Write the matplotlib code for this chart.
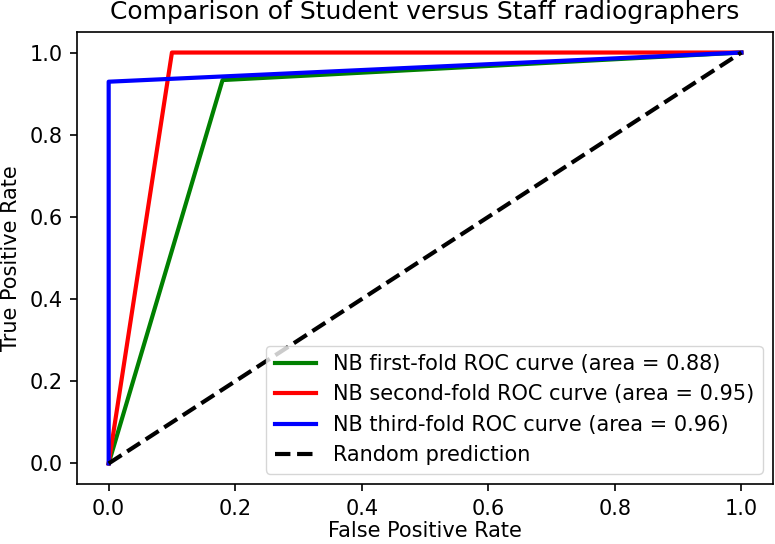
import matplotlib
matplotlib.use("Agg")
import matplotlib.pyplot as plt

fpr_first = [0.0, 0.18, 1.0]
tpr_first = [0.0, 0.933, 1.0]
fpr_second = [0.0, 0.10, 1.0]
tpr_second = [0.0, 1.0, 1.0]
fpr_third = [0.0, 0.0, 1.0]
tpr_third = [0.0, 0.929, 1.0]
random_x = [0.0, 1.0]
random_y = [0.0, 1.0]
labels = ["NB first-fold ROC curve (area = 0.88)",
          "NB second-fold ROC curve (area = 0.95)",
          "NB third-fold ROC curve (area = 0.96)",
          "Random prediction"]

fs = 15
fig = plt.figure(figsize=(7.75, 5.44), dpi=100)
ax = fig.add_axes([0.0994, 0.1103, 0.898, 0.8309])
lw = 3.0
ax.plot(fpr_first, tpr_first, color="green", lw=lw, label=labels[0])
ax.plot(fpr_second, tpr_second, color="red", lw=lw, label=labels[1])
ax.plot(fpr_third, tpr_third, color="blue", lw=lw, label=labels[2])
ax.plot(random_x, random_y, color="black", lw=lw, ls="--", label=labels[3])
ax.set_xticks([0.0, 0.2, 0.4, 0.6, 0.8, 1.0])
ax.set_yticks([0.0, 0.2, 0.4, 0.6, 0.8, 1.0])
ax.tick_params(labelsize=fs, length=5.25, width=1.2, pad=5.25)
for s in ax.spines.values():
    s.set_linewidth(1.2)
ax.set_xlabel("False Positive Rate", fontsize=fs, labelpad=2)
ax.set_ylabel("True Positive Rate", fontsize=fs, labelpad=6)
ax.set_title("Comparison of Student versus Staff radiographers", fontsize=18, pad=9)
ax.legend(loc="lower right", fontsize=fs)
fig.savefig("out.png", dpi=100)
